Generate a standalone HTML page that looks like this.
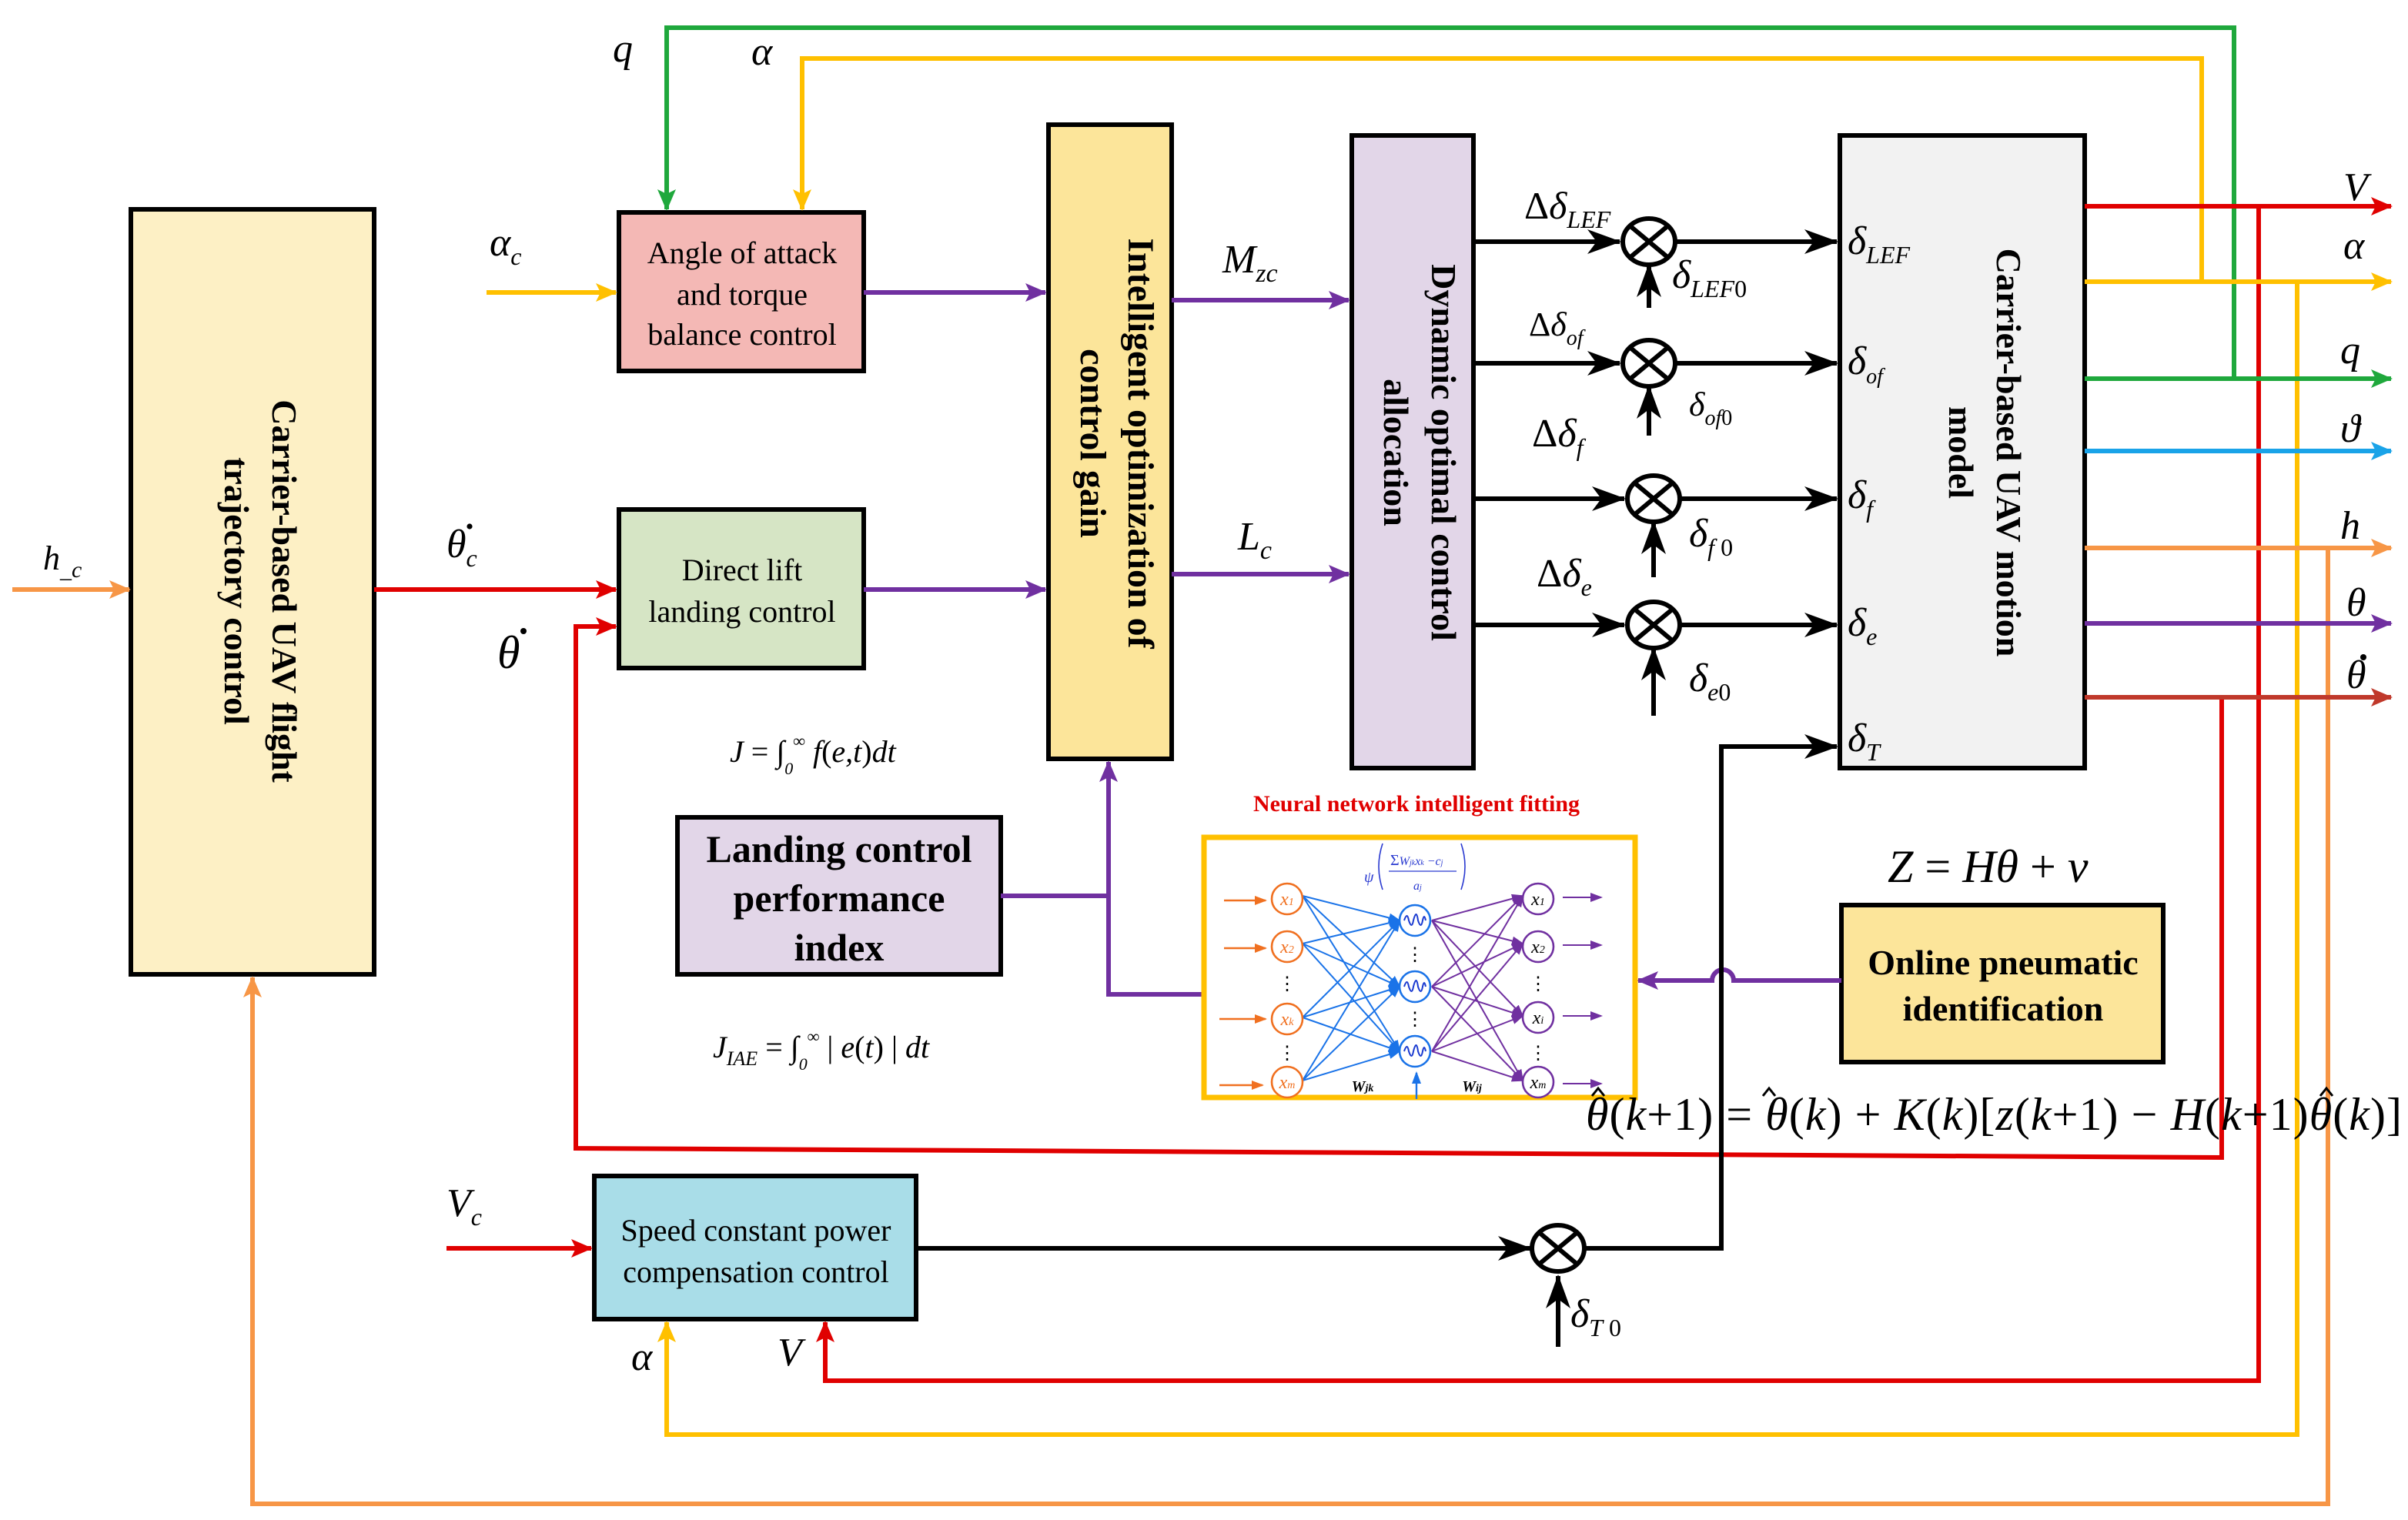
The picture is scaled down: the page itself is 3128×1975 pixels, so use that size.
<!DOCTYPE html>
<html><head><meta charset="utf-8"><style>
html,body{margin:0;padding:0;background:#fff;}
svg{display:block;}
text{font-family:"Liberation Serif",serif;}
.b{font-weight:bold;}
.it{font-style:italic;}
</style></head><body>
<svg width="3128" height="1975" viewBox="0 0 1564 987.5" xmlns="http://www.w3.org/2000/svg">
<defs>
<marker id="ap" markerWidth="14" markerHeight="12" refX="13" refY="6" orient="auto" markerUnits="userSpaceOnUse"><path d="M0,0 L14,6 L0,12 L3,6z" fill="#7030a0"/></marker>
<marker id="ar" markerWidth="14" markerHeight="12" refX="13" refY="6" orient="auto" markerUnits="userSpaceOnUse"><path d="M0,0 L14,6 L0,12 L3,6z" fill="#e00000"/></marker>
<marker id="ay" markerWidth="14" markerHeight="12" refX="13" refY="6" orient="auto" markerUnits="userSpaceOnUse"><path d="M0,0 L14,6 L0,12 L3,6z" fill="#ffc000"/></marker>
<marker id="ag" markerWidth="14" markerHeight="12" refX="13" refY="6" orient="auto" markerUnits="userSpaceOnUse"><path d="M0,0 L14,6 L0,12 L3,6z" fill="#1fa83c"/></marker>
<marker id="ab" markerWidth="14" markerHeight="12" refX="13" refY="6" orient="auto" markerUnits="userSpaceOnUse"><path d="M0,0 L14,6 L0,12 L3,6z" fill="#1aa3e8"/></marker>
<marker id="ao" markerWidth="14" markerHeight="12" refX="13" refY="6" orient="auto" markerUnits="userSpaceOnUse"><path d="M0,0 L14,6 L0,12 L3,6z" fill="#f79646"/></marker>
<marker id="ad" markerWidth="14" markerHeight="12" refX="13" refY="6" orient="auto" markerUnits="userSpaceOnUse"><path d="M0,0 L14,6 L0,12 L3,6z" fill="#c0392b"/></marker>
<marker id="a2" markerWidth="22" markerHeight="16" refX="21" refY="8" orient="auto" markerUnits="userSpaceOnUse"><path d="M0,0 L22,8 L0,16 L6,8z" fill="#000"/></marker>
<marker id="nb" markerWidth="8" markerHeight="6" refX="7" refY="3" orient="auto" markerUnits="userSpaceOnUse"><path d="M0,0 L8,3 L0,6z" fill="#1a73e8"/></marker>
<marker id="np" markerWidth="8" markerHeight="6" refX="7" refY="3" orient="auto" markerUnits="userSpaceOnUse"><path d="M0,0 L8,3 L0,6z" fill="#7030a0"/></marker>
<marker id="no" markerWidth="8" markerHeight="6" refX="7" refY="3" orient="auto" markerUnits="userSpaceOnUse"><path d="M0,0 L8,3 L0,6z" fill="#f07020"/></marker>
</defs>

<rect x="85" y="136" width="158" height="497" fill="#fdf0c5" stroke="#000" stroke-width="3"/>
<rect x="402" y="138" width="159" height="103" fill="#f4b8b5" stroke="#000" stroke-width="3"/>
<rect x="402" y="331" width="159" height="103" fill="#d6e5c5" stroke="#000" stroke-width="3"/>
<rect x="681" y="81" width="80" height="412" fill="#fce59a" stroke="#000" stroke-width="3"/>
<rect x="878" y="88" width="79" height="411" fill="#e2d6e8" stroke="#000" stroke-width="3"/>
<rect x="1195" y="88" width="159" height="411" fill="#f2f2f2" stroke="#000" stroke-width="3"/>
<rect x="440" y="531" width="210" height="102" fill="#e2d6e8" stroke="#000" stroke-width="3"/>
<rect x="1196" y="588" width="209" height="102" fill="#fce59a" stroke="#000" stroke-width="3"/>
<rect x="386" y="764" width="209" height="93" fill="#a9dde8" stroke="#000" stroke-width="3"/>

<g class="b" font-size="23" text-anchor="middle">
<text transform="translate(177,384) rotate(90)" class="b">Carrier-based UAV flight</text>
<text transform="translate(146,384) rotate(90)" class="b">trajectory control</text>
<text transform="translate(733,288) rotate(90)" class="b" font-size="24">Intelligent optimization of</text>
<text transform="translate(702,288) rotate(90)" class="b" font-size="24">control gain</text>
<text transform="translate(930,294) rotate(90)" class="b" font-size="23">Dynamic optimal control</text>
<text transform="translate(899,294) rotate(90)" class="b" font-size="23">allocation</text>
<text transform="translate(1297,294) rotate(90)" class="b" font-size="23">Carrier-based UAV motion</text>
<text transform="translate(1266,294) rotate(90)" class="b" font-size="23">model</text>
</g>
<g font-size="20" text-anchor="middle" fill="#000">
<text x="482" y="171">Angle of attack</text>
<text x="482" y="198">and torque</text>
<text x="482" y="224">balance control</text>
<text x="482" y="377">Direct lift</text>
<text x="482" y="404">landing control</text>
<text x="491" y="806">Speed constant power</text>
<text x="491" y="833">compensation control</text>
</g>
<g class="b" font-size="25" text-anchor="middle">
<text x="545" y="560">Landing control</text>
<text x="545" y="592">performance</text>
<text x="545" y="624">index</text>
<text x="1301" y="633" font-size="23">Online pneumatic</text>
<text x="1301" y="663" font-size="23">identification</text>
</g>

<g stroke="#7030a0" stroke-width="3" fill="none">
<line x1="561" y1="190" x2="679" y2="190" marker-end="url(#ap)"/>
<line x1="561" y1="383" x2="679" y2="383" marker-end="url(#ap)"/>
<line x1="761" y1="195" x2="876" y2="195" marker-end="url(#ap)"/>
<line x1="761" y1="373" x2="876" y2="373" marker-end="url(#ap)"/>
<polyline points="650,582 720,582"/>
<polyline points="782,646 720,646 720,495" marker-end="url(#ap)"/>
<path d="M1196,637 L1126,637 A7,7 0 0 0 1112,637 L1064,637" marker-end="url(#ap)"/>
</g>

<line x1="8" y1="383" x2="84" y2="383" stroke="#f79646" stroke-width="3" marker-end="url(#ao)"/>
<line x1="243" y1="383" x2="400" y2="383" stroke="#e00000" stroke-width="3" marker-end="url(#ar)"/>
<line x1="316" y1="190" x2="400" y2="190" stroke="#ffc000" stroke-width="3" marker-end="url(#ay)"/>
<line x1="290" y1="811" x2="384" y2="811" stroke="#e00000" stroke-width="3" marker-end="url(#ar)"/>

<polyline points="1451,246 1451,18 433,18 433,136" fill="none" stroke="#1fa83c" stroke-width="3" marker-end="url(#ag)"/>
<polyline points="1430,183 1430,38 521,38 521,136" fill="none" stroke="#ffc000" stroke-width="3" marker-end="url(#ay)"/>
<polyline points="1492,183 1492,932 433,932 433,859" fill="none" stroke="#ffc000" stroke-width="3" marker-end="url(#ay)"/>
<polyline points="1467,134 1467,897 536,897 536,859" fill="none" stroke="#e00000" stroke-width="3" marker-end="url(#ar)"/>
<polyline points="1443,453 1443,752 374,746 374,407 400,407" fill="none" stroke="#e00000" stroke-width="3" marker-end="url(#ar)"/>
<polyline points="1512,356 1512,977 164,977 164,635" fill="none" stroke="#f79646" stroke-width="3" marker-end="url(#ao)"/>

<line x1="1354" y1="134" x2="1553" y2="134" stroke="#e00000" stroke-width="3" marker-end="url(#ar)"/>
<line x1="1354" y1="183" x2="1553" y2="183" stroke="#ffc000" stroke-width="3" marker-end="url(#ay)"/>
<line x1="1354" y1="246" x2="1553" y2="246" stroke="#1fa83c" stroke-width="3" marker-end="url(#ag)"/>
<line x1="1354" y1="293" x2="1553" y2="293" stroke="#1aa3e8" stroke-width="3" marker-end="url(#ab)"/>
<line x1="1354" y1="356" x2="1553" y2="356" stroke="#f79646" stroke-width="3" marker-end="url(#ao)"/>
<line x1="1354" y1="405" x2="1553" y2="405" stroke="#7030a0" stroke-width="3" marker-end="url(#ap)"/>
<line x1="1354" y1="453" x2="1553" y2="453" stroke="#c0392b" stroke-width="3" marker-end="url(#ad)"/>

<g stroke="#000" stroke-width="3" fill="none">
<line x1="957" y1="157" x2="1052" y2="157" marker-end="url(#a2)"/>
<line x1="1089" y1="157" x2="1193" y2="157" marker-end="url(#a2)"/>
<line x1="957" y1="236" x2="1052" y2="236" marker-end="url(#a2)"/>
<line x1="1089" y1="236" x2="1193" y2="236" marker-end="url(#a2)"/>
<line x1="957" y1="324" x2="1055" y2="324" marker-end="url(#a2)"/>
<line x1="1092" y1="324" x2="1193" y2="324" marker-end="url(#a2)"/>
<line x1="957" y1="406" x2="1055" y2="406" marker-end="url(#a2)"/>
<line x1="1092" y1="406" x2="1193" y2="406" marker-end="url(#a2)"/>
<line x1="1071" y1="200" x2="1071" y2="172" marker-end="url(#a2)"/>
<line x1="1071" y1="283" x2="1071" y2="251" marker-end="url(#a2)"/>
<line x1="1074" y1="375" x2="1074" y2="339" marker-end="url(#a2)"/>
<line x1="1074" y1="465" x2="1074" y2="421" marker-end="url(#a2)"/>
<line x1="595" y1="811" x2="994" y2="811" marker-end="url(#a2)"/>
<polyline points="1030,811 1118,811 1118,485 1193,485" marker-end="url(#a2)"/>
<line x1="1012" y1="875" x2="1012" y2="829" marker-end="url(#a2)"/>
<g fill="#fff">
<ellipse cx="1071" cy="157" rx="17" ry="15"/><path d="M1059,147 L1083,167 M1083,147 L1059,167"/>
<ellipse cx="1071" cy="236" rx="17" ry="15"/><path d="M1059,226 L1083,246 M1083,226 L1059,246"/>
<ellipse cx="1074" cy="324" rx="17" ry="15"/><path d="M1062,314 L1086,334 M1086,314 L1062,334"/>
<ellipse cx="1074" cy="406" rx="17" ry="15"/><path d="M1062,396 L1086,416 M1086,396 L1062,416"/>
<ellipse cx="1012" cy="811" rx="17" ry="15"/><path d="M1000,801 L1024,821 M1024,801 L1000,821"/>
</g>
</g>

<rect x="782" y="544" width="280" height="169" fill="#fff" stroke="#ffc000" stroke-width="3.5"/>
<text x="920" y="527" class="b" font-size="15" fill="#e00000" text-anchor="middle">Neural network intelligent fitting</text>
<g stroke="#1a73e8" stroke-width="1" marker-end="url(#nb)">
<line x1="846" y1="582" x2="909" y2="598"/><line x1="846" y1="582" x2="909" y2="641"/><line x1="846" y1="582" x2="909" y2="683"/>
<line x1="846" y1="613" x2="909" y2="598"/><line x1="846" y1="613" x2="909" y2="641"/><line x1="846" y1="613" x2="909" y2="683"/>
<line x1="846" y1="661" x2="909" y2="598"/><line x1="846" y1="661" x2="909" y2="641"/><line x1="846" y1="661" x2="909" y2="683"/>
<line x1="846" y1="702" x2="909" y2="598"/><line x1="846" y1="702" x2="909" y2="641"/><line x1="846" y1="702" x2="909" y2="683"/>
</g>
<g stroke="#7030a0" stroke-width="1" marker-end="url(#np)">
<line x1="930" y1="598" x2="989" y2="582"/><line x1="930" y1="598" x2="989" y2="613"/><line x1="930" y1="598" x2="989" y2="660"/><line x1="930" y1="598" x2="989" y2="702"/>
<line x1="930" y1="641" x2="989" y2="582"/><line x1="930" y1="641" x2="989" y2="613"/><line x1="930" y1="641" x2="989" y2="660"/><line x1="930" y1="641" x2="989" y2="702"/>
<line x1="930" y1="683" x2="989" y2="582"/><line x1="930" y1="683" x2="989" y2="613"/><line x1="930" y1="683" x2="989" y2="660"/><line x1="930" y1="683" x2="989" y2="702"/>
<line x1="1015" y1="583" x2="1040" y2="583"/><line x1="1015" y1="614" x2="1040" y2="614"/><line x1="1015" y1="660" x2="1040" y2="660"/><line x1="1015" y1="704" x2="1040" y2="704"/>
</g>
<g stroke="#f07020" stroke-width="1.2" marker-end="url(#no)">
<line x1="795" y1="585" x2="822" y2="585"/><line x1="795" y1="616" x2="822" y2="616"/><line x1="792" y1="662" x2="822" y2="662"/><line x1="792" y1="705" x2="820" y2="705"/>
</g>
<line x1="920" y1="714" x2="920" y2="697" stroke="#1a73e8" stroke-width="1.2" marker-end="url(#nb)"/>
<g fill="#fff" stroke="#f07020" stroke-width="1.3">
<circle cx="836" cy="584" r="10"/><circle cx="836" cy="615" r="10"/><circle cx="836" cy="662" r="10"/><circle cx="836" cy="703" r="10"/>
</g>
<g fill="#fff" stroke="#1a73e8" stroke-width="1.3">
<circle cx="919" cy="598" r="10"/><circle cx="919" cy="641" r="10"/><circle cx="919" cy="683" r="10"/>
</g>
<g fill="none" stroke="#1a3ad0" stroke-width="1">
<path d="M912,598 q2,-6 3,0 q2,6 3,0 q2,-8 3,0 q2,6 3,0 q1,-5 2,0"/>
<path d="M912,641 q2,-6 3,0 q2,6 3,0 q2,-8 3,0 q2,6 3,0 q1,-5 2,0"/>
<path d="M912,683 q2,-6 3,0 q2,6 3,0 q2,-8 3,0 q2,6 3,0 q1,-5 2,0"/>
</g>
<g fill="#fff" stroke="#7030a0" stroke-width="1.3">
<circle cx="999" cy="584" r="10"/><circle cx="999" cy="615" r="10"/><circle cx="999" cy="661" r="10"/><circle cx="999" cy="703" r="10"/>
</g>
<g font-size="12" class="it" text-anchor="middle">
<text x="836" y="588" fill="#f07020">x<tspan font-size="7">1</tspan></text><text x="836" y="619" fill="#f07020">x<tspan font-size="7">2</tspan></text><text x="836" y="666" fill="#f07020">x<tspan font-size="7">k</tspan></text><text x="836" y="707" fill="#f07020">x<tspan font-size="7">m</tspan></text>
<text x="999" y="588">x<tspan font-size="7">1</tspan></text><text x="999" y="619">x<tspan font-size="7">2</tspan></text><text x="999" y="665">x<tspan font-size="7">i</tspan></text><text x="999" y="707">x<tspan font-size="7">m</tspan></text>
<text x="885" y="709" class="b" font-size="10">W<tspan font-size="7">jk</tspan></text>
<text x="956" y="709" class="b" font-size="10">W<tspan font-size="7">ij</tspan></text>
</g>
<g fill="#000" font-size="12" text-anchor="middle"><text x="836" y="643">⋮</text><text x="836" y="688">⋮</text><text x="919" y="624">⋮</text><text x="919" y="666">⋮</text><text x="999" y="643">⋮</text><text x="999" y="688">⋮</text></g>
<g fill="#2a3ad0" font-size="8" class="it">
<text x="886" y="573" font-size="10">ψ</text>
<path d="M898,548 q-5,15 0,30 M949,548 q5,15 0,30" stroke="#2a3ad0" fill="none" stroke-width="0.8"/>
<text x="903" y="562"><tspan font-size="10" font-style="normal">Σ</tspan>W<tspan font-size="5">jk</tspan>x<tspan font-size="5">k</tspan> −c<tspan font-size="5">j</tspan></text>
<line x1="902" y1="566" x2="946" y2="566" stroke="#2a3ad0" stroke-width="0.6"/>
<text x="918" y="578">a<tspan font-size="5">j</tspan></text>
</g>

<g class="it" font-size="26" fill="#000">
<text x="398" y="40">q</text>
<text x="488" y="42">α</text>
<text x="318" y="166">α<tspan font-size="16" dy="6">c</tspan></text>
<text x="28" y="370" font-size="22">h<tspan font-size="15" dy="5">_c</tspan></text>
<text x="290" y="362">θ<tspan font-size="16" dy="6">c</tspan></text>
<text x="323" y="434" font-size="30">θ</text>
<text x="794" y="177">M<tspan font-size="17" dy="6">zc</tspan></text>
<text x="804" y="357">L<tspan font-size="17" dy="6">c</tspan></text>
<text x="290" y="790">V<tspan font-size="16" dy="6">c</tspan></text>
<text x="410" y="890">α</text>
<text x="505" y="887">V</text>
<text x="1522" y="130">V</text>
<text x="1522" y="168">α</text>
<text x="1520" y="236">q</text>
<text x="1520" y="287">ϑ</text>
<text x="1520" y="350">h</text>
<text x="1524" y="400">θ</text>
<text x="1524" y="447">θ</text>
<text x="990" y="142" font-size="25"><tspan font-style="normal">Δ</tspan>δ<tspan font-size="16" dy="6">LEF</tspan></text>
<text x="993" y="218" font-size="22"><tspan font-style="normal">Δ</tspan>δ<tspan font-size="14" dy="6">of</tspan></text>
<text x="995" y="290"><tspan font-style="normal">Δ</tspan>δ<tspan font-size="16" dy="6">f</tspan></text>
<text x="998" y="381"><tspan font-style="normal">Δ</tspan>δ<tspan font-size="16" dy="6">e</tspan></text>
<text x="1086" y="187">δ<tspan font-size="16" dy="6">LEF</tspan><tspan font-size="16" font-style="normal">0</tspan></text>
<text x="1097" y="270" font-size="22">δ<tspan font-size="14" dy="6">of</tspan><tspan font-size="14" font-style="normal">0</tspan></text>
<text x="1097" y="355">δ<tspan font-size="16" dy="6">f</tspan><tspan font-size="16" font-style="normal"> 0</tspan></text>
<text x="1097" y="449">δ<tspan font-size="16" dy="6">e</tspan><tspan font-size="16" font-style="normal">0</tspan></text>
<text x="1020" y="862">δ<tspan font-size="16" dy="6">T</tspan><tspan font-size="16" font-style="normal"> 0</tspan></text>
<text x="1200" y="165">δ<tspan font-size="16" dy="6">LEF</tspan></text>
<text x="1200" y="243">δ<tspan font-size="14" dy="6">of</tspan></text>
<text x="1200" y="330">δ<tspan font-size="16" dy="6">f</tspan></text>
<text x="1200" y="413">δ<tspan font-size="16" dy="6">e</tspan></text>
<text x="1200" y="488">δ<tspan font-size="16" dy="6">T</tspan></text>
<text x="1226" y="573" font-size="30">Z <tspan font-style="normal">=</tspan> Hθ <tspan font-style="normal">+</tspan> v</text>
<text x="474" y="495" font-size="20">J <tspan font-style="normal">= ∫</tspan><tspan font-size="11" dy="8">0</tspan><tspan font-size="11" dy="-18">∞</tspan><tspan dy="10"> f</tspan><tspan font-style="normal">(</tspan>e,t<tspan font-style="normal">)</tspan>dt</text>
<text x="463" y="687" font-size="20">J<tspan font-size="13" dy="5">IAE</tspan><tspan font-style="normal" dy="-5"> = ∫</tspan><tspan font-size="11" dy="8">0</tspan><tspan font-size="11" dy="-18">∞</tspan><tspan dy="10" font-style="normal"> | </tspan>e<tspan font-style="normal">(</tspan>t<tspan font-style="normal">) | </tspan>dt</text>
<text x="1030" y="734" font-size="30" textLength="530" lengthAdjust="spacing">θ<tspan font-style="normal">(</tspan>k<tspan font-style="normal">+1) = </tspan>θ<tspan font-style="normal">(</tspan>k<tspan font-style="normal">) + </tspan>K<tspan font-style="normal">(</tspan>k<tspan font-style="normal">)[</tspan>z<tspan font-style="normal">(</tspan>k<tspan font-style="normal">+1) − </tspan>H<tspan font-style="normal">(</tspan>k<tspan font-style="normal">+1)</tspan>θ<tspan font-style="normal">(</tspan>k<tspan font-style="normal">)]</tspan></text>
</g>
<!-- dots and hats -->
<g fill="#000">
<circle cx="305" cy="342" r="1.8"/>
<circle cx="340" cy="410" r="2"/>
<circle cx="1535" cy="427" r="2"/>
</g>
<g stroke="#000" stroke-width="1.5" fill="none">
<path d="M1034,712 l4,-5 l4,5"/>
<path d="M1145,712 l4,-5 l4,5"/>
<path d="M1507,712 l4,-5 l4,5"/>
</g>
</svg>
</body></html>
